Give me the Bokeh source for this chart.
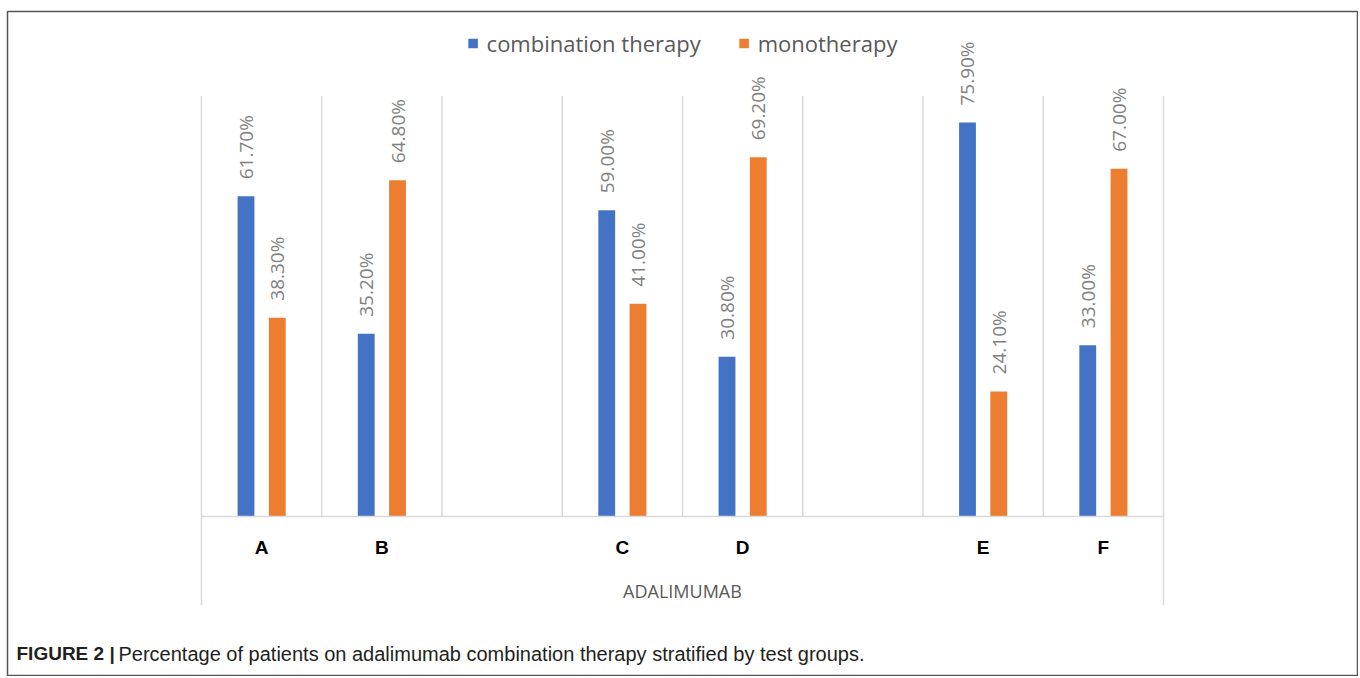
import math
from bokeh.plotting import figure
from bokeh.models import (ColumnDataSource, FixedTicker, Label, Legend, LegendItem,
                          Range1d, LinearAxis)
from bokeh.core.properties import value
from bokeh.embed import file_html
from bokeh.resources import INLINE

# ---------------- data ----------------
groups = ["A", "B", "C", "D", "E", "F"]
combination = [61.7, 35.2, 59.0, 30.8, 75.9, 33.0]
monotherapy = [38.3, 64.8, 41.0, 69.2, 24.1, 67.0]
series_names = ["combination therapy", "monotherapy"]
axis_title = "ADALIMUMAB"
caption_bold = "FIGURE 2 |"
caption_text = "Percentage of patients on adalimumab combination therapy stratified by test groups."

# ---------------- layout ----------------
slot_of = [0, 1, 3, 4, 6, 7]          # Excel category slots (empty slot between pairs)
n_slots = 8
centers = [s + 0.5 for s in slot_of]
bar_off = 0.13
bar_w = 0.14
grid_top = 81.0
group_line_bottom = -17.1

W, H = 1358, 676
FL, FT, FR, FB = 7, 11, 1357, 676   # frame edges in canvas px
x0_px = 201.0      # canvas x of slot 0
slot_px = 120.25
y0_px = 516.0      # canvas y of value 0
unit_px = 5.19

x_start = (FL - x0_px) / slot_px
x_end = (FR - x0_px) / slot_px
y_end = (y0_px - FT) / unit_px
y_start = -(FB - y0_px) / unit_px

def xdata(px):
    return (px - x0_px) / slot_px

def ydata(py):
    return (y0_px - py) / unit_px

BLUE = "#4472C4"
ORANGE = "#ED7D31"
GRID = "#d9d9d9"
LABEL_GRAY = "#808080"
TEXT_GRAY = "#595959"

p = figure(width=W, height=H, x_range=Range1d(x_start, x_end), y_range=Range1d(y_start, y_end),
           output_backend="svg", toolbar_location=None,
           min_border_left=FL, min_border_top=FT, min_border_right=W - FR, min_border_bottom=H - FB,
           x_axis_location=None, y_axis_location=None)
p.grid.visible = False
p.outline_line_color = "#555555"
p.outline_line_width = 1.5
p.background_fill_color = "white"
p.border_fill_color = "white"

# separators between categories
sep_x = list(range(n_slots + 1))
sep_y0 = [group_line_bottom if (i == 0 or i == n_slots) else 0 for i in sep_x]
p.segment(x0=sep_x, y0=sep_y0, x1=sep_x, y1=[grid_top] * len(sep_x),
          line_color=GRID, line_width=1.5)

# bars
src_c = ColumnDataSource(dict(x=[c - bar_off for c in centers], top=combination,
                              lab=[f"{v:.2f}%" for v in combination]))
src_m = ColumnDataSource(dict(x=[c + bar_off for c in centers], top=monotherapy,
                              lab=[f"{v:.2f}%" for v in monotherapy]))
r_c = p.vbar(x="x", top="top", bottom=0, width=bar_w, source=src_c,
             fill_color=BLUE, line_color=None)
r_m = p.vbar(x="x", top="top", bottom=0, width=bar_w, source=src_m,
             fill_color=ORANGE, line_color=None)

# data labels (rotated)
for src in (src_c, src_m):
    p.text(x="x", y="top", text="lab", source=src, angle=math.pi / 2,
           text_align="left", text_baseline="middle", y_offset=-17,
           text_font=value("Open Sans"), text_font_size="19px", text_color=LABEL_GRAY)

# category axis drawn at value 0
xaxis = LinearAxis(fixed_location=0)
xaxis.ticker = FixedTicker(ticks=centers)
xaxis.major_label_overrides = {c: g for c, g in zip(centers, groups)}
xaxis.bounds = (0, n_slots)
xaxis.axis_line_color = GRID
xaxis.axis_line_width = 1.5
xaxis.major_tick_line_color = None
xaxis.minor_tick_line_color = None
xaxis.major_tick_out = 0
xaxis.major_tick_in = 0
xaxis.major_label_standoff = 20
xaxis.major_label_text_font = "Liberation Sans"
xaxis.major_label_text_font_style = "bold"
xaxis.major_label_text_font_size = "19px"
xaxis.major_label_text_color = "black"
xaxis.axis_label = axis_title
xaxis.axis_label_standoff = 18
xaxis.axis_label_text_font = "Open Sans"
xaxis.axis_label_text_font_style = "normal"
xaxis.axis_label_text_font_size = "18px"
xaxis.axis_label_text_color = TEXT_GRAY
p.add_layout(xaxis, "below")

# legend
legend = Legend(items=[LegendItem(label=series_names[0], renderers=[r_c]),
                       LegendItem(label=series_names[1], renderers=[r_m])],
                orientation="horizontal", location="top_center",
                label_text_font="Open Sans", label_text_font_size="22px",
                label_text_color=TEXT_GRAY, glyph_width=12, glyph_height=12,
                label_standoff=8, spacing=37, padding=0, margin=17,
                border_line_color=None, background_fill_alpha=0)
p.add_layout(legend, "center")

# caption
p.add_layout(Label(x=xdata(16), y=ydata(653), text=caption_bold, text_baseline="alphabetic",
                   text_font="Liberation Sans", text_font_style="bold",
                   text_font_size="19px", text_color="#231f20"))
p.add_layout(Label(x=xdata(118), y=ydata(653), text=caption_text, text_baseline="alphabetic",
                   text_font="Liberation Sans", text_font_size="20px",
                   text_color="#231f20"))

open("out.html", "w").write(file_html(p, INLINE))
